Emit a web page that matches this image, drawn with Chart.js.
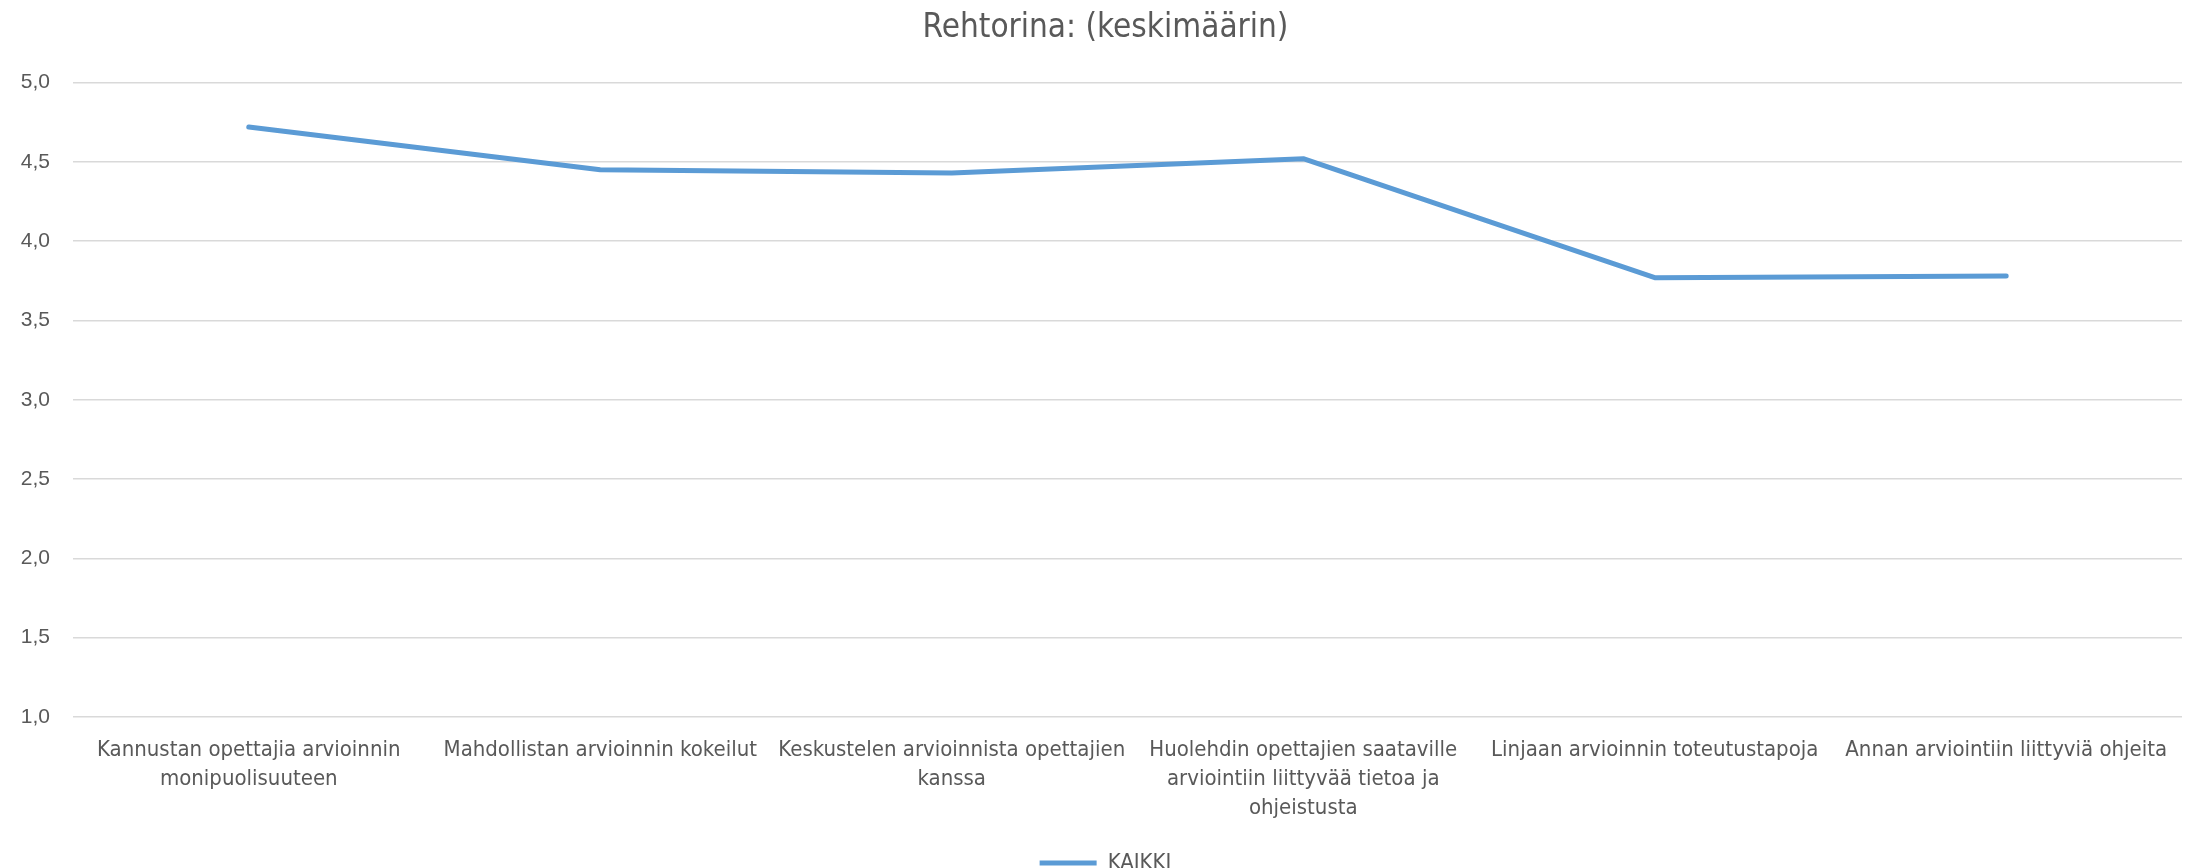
<!DOCTYPE html>
<html lang="fi">
<head>
    <meta charset="UTF-8">
    <title>Rehtorina: (keskimäärin)</title>
    <script src="https://cdn.jsdelivr.net/npm/chart.js"></script>
    <style>
        body {
            margin: 0;
            background: #ffffff;
            overflow: hidden;
        }
        .chart-box {
            width: 2193px;
            height: 868px;
        }
    </style>
</head>
<body>
    <div class="chart-box">
        <canvas id="lineChart"></canvas>
    </div>

    <script>
        // Data
        const categories = [
            ['Kannustan opettajia arvioinnin', 'monipuolisuuteen'],
            'Mahdollistan arvioinnin kokeilut',
            ['Keskustelen arvioinnista opettajien', 'kanssa'],
            ['Huolehdin opettajien saataville', 'arviointiin liittyvää tietoa ja', 'ohjeistusta'],
            'Linjaan arvioinnin toteutustapoja',
            'Annan arviointiin liittyviä ohjeita'
        ];
        const kaikkiValues = [4.72, 4.45, 4.43, 4.52, 3.77, 3.78];
        const yTicks = [1.0, 1.5, 2.0, 2.5, 3.0, 3.5, 4.0, 4.5, 5.0];

        const textColor = '#595959';
        const narrowFont = '"Liberation Sans Narrow", "DejaVu Sans Condensed", "Roboto", sans-serif';
        const plainFont = '"Liberation Sans", Arial, sans-serif';

        // title and legend sit a little right of the canvas centre in the original
        const nudgeCentered = {
            id: 'nudgeCentered',
            afterLayout(chart) {
                chart.titleBlock.left += 29;
                chart.legend.left += 29;
            }
        };

        const ctx = document.getElementById('lineChart').getContext('2d');

        new Chart(ctx, {
            type: 'line',
            data: {
                labels: categories,
                datasets: [
                    {
                        label: 'KAIKKI',
                        data: kaikkiValues,
                        borderColor: '#5B9BD5',
                        backgroundColor: '#5B9BD5',
                        borderWidth: 5,
                        borderCapStyle: 'round',
                        borderJoinStyle: 'round',
                        tension: 0,
                        pointRadius: 0,
                        pointHoverRadius: 0,
                        fill: false
                    }
                ]
            },
            plugins: [nudgeCentered],
            options: {
                responsive: true,
                maintainAspectRatio: false,
                animation: false,
                layout: {
                    padding: { left: 0, right: 11, top: 0, bottom: -16 }
                },
                plugins: {
                    title: {
                        display: true,
                        text: 'Rehtorina: (keskimäärin)',
                        color: textColor,
                        font: { family: narrowFont, size: 33, weight: 'normal', lineHeight: 1.2 },
                        padding: { top: 9, bottom: 34 }
                    },
                    legend: {
                        position: 'bottom',
                        labels: {
                            color: textColor,
                            font: { family: narrowFont, size: 22 },
                            usePointStyle: true,
                            pointStyle: 'line',
                            pointStyleWidth: 57,
                            padding: 4
                        }
                    },
                    tooltip: { enabled: false }
                },
                scales: {
                    x: {
                        offset: true,
                        grid: { display: false },
                        border: { display: false },
                        ticks: {
                            color: textColor,
                            font: { family: narrowFont, size: 22, lineHeight: 1.32 },
                            maxRotation: 0,
                            autoSkip: false,
                            padding: 11
                        },
                        afterFit: scale => { scale.height = 131; }
                    },
                    y: {
                        min: 1,
                        max: 5,
                        grid: { color: '#D9D9D9', lineWidth: 1.5, drawTicks: false },
                        border: { display: false },
                        afterBuildTicks: scale => {
                            scale.ticks = yTicks.map(v => ({ value: v }));
                        },
                        ticks: {
                            color: textColor,
                            font: { family: plainFont, size: 21 },
                            padding: 23,
                            callback: value => value.toFixed(1).replace('.', ',')
                        },
                        afterFit: scale => { scale.width = 73; }
                    }
                }
            }
        });
    </script>
</body>
</html>
